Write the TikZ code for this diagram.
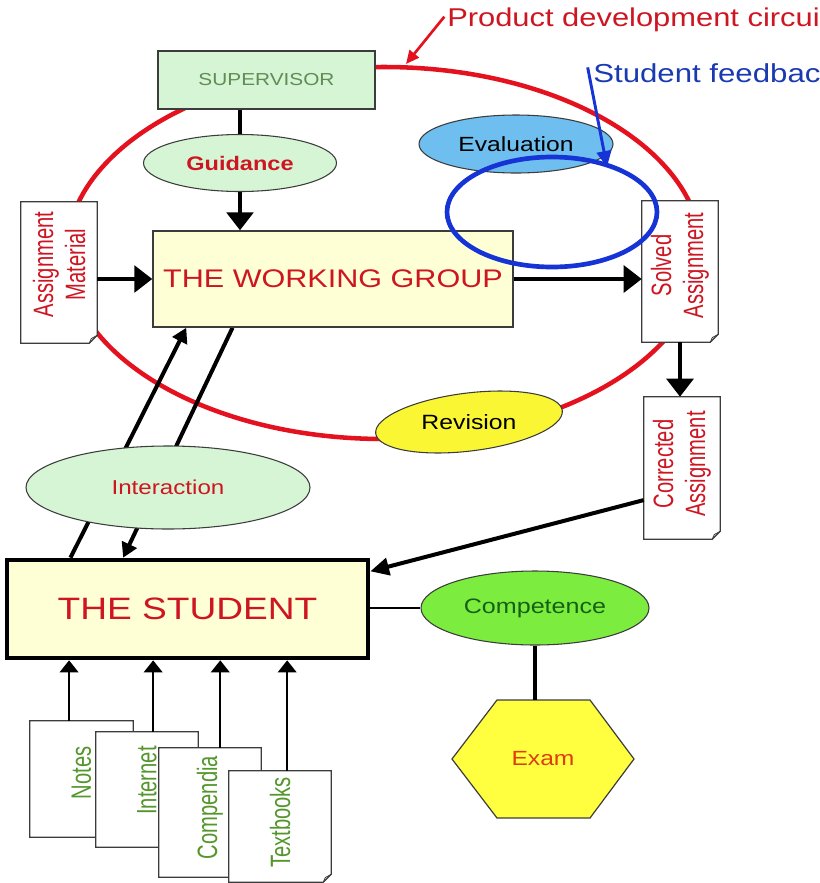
\documentclass[tikz,border=0pt]{standalone}
\usepackage{fontspec}
\setmainfont{Liberation Sans}[FakeStretch=1.2]
\newfontfamily\sidefont{Liberation Sans}[FakeStretch=0.72]
\usetikzlibrary{shapes.geometric,arrows.meta,calc,backgrounds}

\definecolor{circuitred}{RGB}{228,18,30}
\definecolor{labelred}{RGB}{206,22,34}
\definecolor{feedblue}{RGB}{22,52,214}
\definecolor{feedtext}{RGB}{26,58,178}
\definecolor{paleyellow}{RGB}{255,255,214}
\definecolor{palegreen}{RGB}{214,245,212}
\definecolor{evalblue}{RGB}{110,190,240}
\definecolor{revyellow}{RGB}{250,246,52}
\definecolor{compgreen}{RGB}{124,236,62}
\definecolor{examyellow}{RGB}{255,255,64}
\definecolor{examtext}{RGB}{222,62,14}
\definecolor{darkgreen}{RGB}{22,96,22}
\definecolor{sourcegreen}{RGB}{84,150,44}
\definecolor{supgreen}{RGB}{96,140,86}
\definecolor{edgegray}{RGB}{60,60,60}

\newcommand\pxu{0.75pt}
\newcommand\fs[2]{\fontsize{#1pt}{#2pt}\selectfont}
% paper sheet with a curled lower right corner
\newcommand\docoutline[1]{%
  \draw[docline] (#1.north west) -- (#1.north east) -- ([yshift=6pt]#1.south east)
    -- ([xshift=-6pt]#1.south east) -- (#1.south west) -- cycle;
  \draw[docline,line width=0.6pt] ([yshift=6pt]#1.south east)
    -- ([xshift=-4.5pt,yshift=3.5pt]#1.south east) -- ([xshift=-6pt]#1.south east);}

\begin{document}
\begin{tikzpicture}[x=0.75pt,y=-0.75pt,
  docline/.style={draw=edgegray,line width=0.9pt},
  doc/.style={rectangle,fill=white,inner sep=0pt},
  sidetext/.style={rotate=90,align=center,inner sep=0pt,
    font=\sidefont\fs{21}{24}},
  oval/.style={ellipse,draw=edgegray,line width=0.8pt,inner sep=0pt},
  bigarrow/.style={line width=3pt,-{Triangle[length=13.5pt,width=20pt]}},
  midarrow/.style={line width=3pt,-{Triangle[length=11pt,width=12pt]}},
  corrarrow/.style={line width=3pt,-{Triangle[length=14pt,width=13pt]}},
  smallarrow/.style={line width=1.2pt,-{Triangle[length=9pt,width=14pt]}},
  plainlink/.style={line width=3pt}]

\useasboundingbox (0,0) rectangle (820,883);
\clip (0,0) rectangle (820,883);

% ---------- boxes ----------
\node[rectangle,draw=edgegray,line width=1.1pt,fill=palegreen,
  minimum width=217*\pxu,minimum height=58*\pxu,text=supgreen,
  font=\fs{13}{16}] (sup) at (266.5,80) {SUPERVISOR};

\node[oval,fill=palegreen,minimum width=193*\pxu,minimum height=57*\pxu,
  text=labelred,font={\bfseries\fs{14.7}{17}}] (gui) at (240,163) {Guidance};

\node[rectangle,draw=edgegray,line width=1.1pt,fill=paleyellow,
  minimum width=360*\pxu,minimum height=96*\pxu,text=labelred,
  font=\fs{19.1}{23}] (wg) at (333,279) {THE WORKING GROUP};

\node[oval,fill=evalblue,minimum width=194*\pxu,minimum height=58*\pxu,
  font=\fs{15.4}{18}] (eval) at (516,144) {Evaluation};

\node[oval,fill=revyellow,rotate=7,minimum width=188*\pxu,minimum height=58*\pxu,
  font=\fs{15.5}{18}] (rev) at (469,422) {\rotatebox{-7}{Revision}};

\node[oval,fill=palegreen,minimum width=284*\pxu,minimum height=83*\pxu,
  text=labelred,font=\fs{15.1}{18}] (inter) at (168,487.5) {Interaction};

\node[rectangle,draw=black,line width=3.5pt,fill=paleyellow,
  minimum width=361*\pxu,minimum height=98*\pxu,text=labelred,
  font=\fs{23.2}{28}] (stud) at (187.5,609) {THE STUDENT};

\node[oval,fill=compgreen,minimum width=228*\pxu,minimum height=74*\pxu,
  text=darkgreen,font=\fs{15.7}{18}] (comp) at (535,608) {Competence};

\filldraw[fill=examyellow,draw=edgegray,line width=0.9pt]
  (497,700) -- (590,700) -- (634,759) -- (590,818) -- (497,818) -- (452,759) -- cycle;
\node[rectangle,inner sep=0pt,minimum width=93*\pxu,minimum height=118*\pxu,
  text=examtext,font=\fs{15.4}{18}] (exam) at (543,759) {Exam};

% ---------- assignment sheets ----------
\node[doc,minimum width=76*\pxu,minimum height=141*\pxu] (am) at (59,272.5) {};
\docoutline{am}
\node[sidetext,text=labelred] (am-t) at ($(am.center)+(0,-8)$) {Assignment\\Material};

\node[doc,minimum width=76*\pxu,minimum height=141*\pxu] (sol) at (680,271.5) {};
\docoutline{sol}
\node[sidetext,text=labelred] (sol-t) at ($(sol.center)+(0,-6)$) {Solved\\Assignment};

\node[doc,minimum width=76*\pxu,minimum height=142*\pxu] (cor) at (682,468) {};
\docoutline{cor}
\node[sidetext,text=labelred] (cor-t) at ($(cor.center)+(0,-4)$) {Corrected\\Assignment};

% ---------- study sources ----------
\node[doc,minimum width=103*\pxu,minimum height=116*\pxu] (notes) at (81.5,779) {};
\docoutline{notes}
\node[sidetext,text=sourcegreen] (notes-t) at ($(notes.center)+(0,-6)$) {Notes};

\node[doc,minimum width=102*\pxu,minimum height=115*\pxu] (net) at (147,789.5) {};
\docoutline{net}
\node[sidetext,text=sourcegreen] (net-t) at ($(net.center)+(0,-9)$) {Internet};

\node[doc,minimum width=102*\pxu,minimum height=129*\pxu] (comp-doc) at (210,812.5) {};
\docoutline{comp-doc}
\node[sidetext,text=sourcegreen] (comp-doc-t) at ($(comp-doc.center)+(0,-5)$) {Compendia};

\node[doc,minimum width=102*\pxu,minimum height=111*\pxu] (text) at (280,826.5) {};
\docoutline{text}
\node[sidetext,text=sourcegreen] (text-t) at ($(text.center)+(0,-4)$) {Textbooks};

% ---------- circuit and links behind the shapes ----------
\begin{scope}[on background layer]
  \draw[circuitred,line width=3.4pt] (384,253) ellipse [x radius=317.5, y radius=186];
  \draw[midarrow] ($(stud.north west)!0.18!(stud.north east)$)
    -- ($(wg.south west)!0.094!(wg.south east)$);
  \draw[midarrow] ($(wg.south west)!0.222!(wg.south east)$)
    -- ($(stud.north west)!0.324!(stud.north east)$);
\end{scope}

% ---------- connectors ----------
\draw[plainlink] (gui.north |- sup.south) -- (gui.north);
\draw[bigarrow] (gui.south) -- (gui.south |- wg.north);
\draw[bigarrow] (am.east |- wg.west) -- (wg.west);
\draw[bigarrow] (wg.east) -- (wg.east -| sol.west);
\draw[bigarrow] (sol.south) -- (sol.south |- cor.north);
\draw[corrarrow] ($(cor.south west)!0.275!(cor.north west)$)
  -- ($(stud.north east)!0.133!(stud.south east)$);
\draw[line width=1.5pt] (stud.east |- comp.west) -- (comp.west);
\draw[plainlink] (comp.south) -- (comp.south |- exam.north);

\coordinate (notes-top) at ($(notes.north west)!0.38!(notes.north east)$);
\coordinate (net-top) at ($(net.north west)!0.56!(net.north east)$);
\coordinate (comp-doc-top) at ($(comp-doc.north west)!0.6!(comp-doc.north east)$);
\coordinate (text-top) at ($(text.north west)!0.57!(text.north east)$);
\draw[smallarrow] (notes-top) -- (notes-top |- stud.south);
\draw[smallarrow] (net-top) -- (net-top |- stud.south);
\draw[smallarrow] (comp-doc-top) -- (comp-doc-top |- stud.south);
\draw[smallarrow] (text-top) -- (text-top |- stud.south);

% ---------- feedback loop ----------
\draw[feedblue,line width=3.5pt] (552,212) ellipse [x radius=105, y radius=55];

% ---------- captions ----------
\node[anchor=base west,inner sep=0pt,text=labelred,font=\fs{19.3}{23}] (pdc)
  at (447,26) {Product development circui};
\coordinate (pdc-tip) at (406,64);
\draw[circuitred,line width=2pt,-{Triangle[length=10pt,width=9pt]}]
  ([xshift=-2pt,yshift=2pt]pdc.west) -- (pdc-tip);

\node[anchor=base west,inner sep=0pt,text=feedtext,font=\fs{19.5}{23}] (sfb)
  at (593,82) {Student feedbac};
\coordinate (sfb-tip) at (607,167);
\draw[feedblue,line width=2.2pt,-{Triangle[length=12pt,width=11pt]}]
  ([xshift=-4pt,yshift=4pt]sfb.west) -- (sfb-tip);

\end{tikzpicture}
\end{document}
